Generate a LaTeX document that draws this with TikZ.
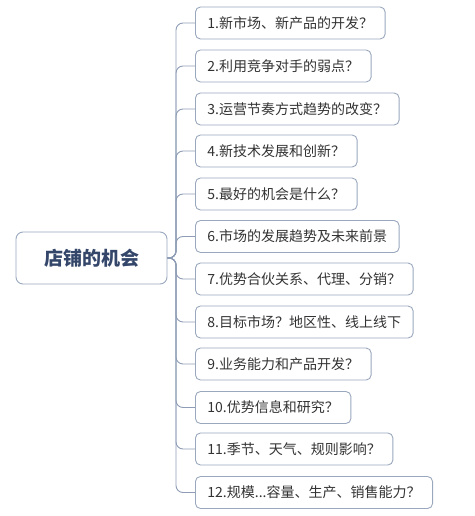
\documentclass[tikz,border=0pt]{standalone}
\usepackage{fontspec}
\setmainfont{Noto Sans CJK SC}
\definecolor{boxline}{HTML}{9AA8BD}
\definecolor{linkline}{HTML}{8E9DB5}
\definecolor{roottext}{HTML}{34476A}
\definecolor{itemtext}{HTML}{333333}

\begin{document}
\begin{tikzpicture}[x=1pt,y=1pt,
  rootbox/.style={draw=boxline,line width=0.9pt,rounded corners=7pt,minimum width=151pt,minimum height=52pt,font=\fontsize{19}{19}\selectfont\bfseries,text=roottext},
  itembox/.style={draw=boxline,line width=0.9pt,rounded corners=5pt,anchor=west,minimum height=32pt,inner xsep=12pt,font=\fontsize{14}{14}\selectfont,text=itemtext},
  link/.style={draw=linkline,line width=0.9pt,rounded corners=7pt}]
\useasboundingbox (0,0) rectangle (474,-516);

\draw (91.5,-258) node (r) [rootbox] {店铺的机会};
\coordinate (t) at (176,-258);

\draw (195,-23)    node (c1)  [itembox] {1.新市场、新产品的开发？};
\draw (195,-66)    node (c2)  [itembox] {2.利用竞争对手的弱点？};
\draw (195,-109)   node (c3)  [itembox] {3.运营节奏方式趋势的改变？};
\draw (195,-151)   node (c4)  [itembox] {4.新技术发展和创新？};
\draw (195,-194)   node (c5)  [itembox] {5.最好的机会是什么？};
\draw (195,-236.5) node (c6)  [itembox] {6.市场的发展趋势及未来前景};
\draw (195,-279)   node (c7)  [itembox] {7.优势合伙关系、代理、分销？};
\draw (195,-322)   node (c8)  [itembox] {8.目标市场？地区性、线上线下};
\draw (195,-364)   node (c9)  [itembox] {9.业务能力和产品开发？};
\draw (195,-407.5) node (c10) [itembox] {10.优势信息和研究？};
\draw (195,-449)   node (c11) [itembox] {11.季节、天气、规则影响？};
\draw (195,-492.5) node (c12) [itembox] {12.规模...容量、生产、销售能力？};

\draw[link] (r.east) -- (t) |- (c1.west);
\draw[link] (r.east) -- (t) |- (c2.west);
\draw[link] (r.east) -- (t) |- (c3.west);
\draw[link] (r.east) -- (t) |- (c4.west);
\draw[link] (r.east) -- (t) |- (c5.west);
\draw[link] (r.east) -- (t) |- (c6.west);
\draw[link] (r.east) -- (t) |- (c7.west);
\draw[link] (r.east) -- (t) |- (c8.west);
\draw[link] (r.east) -- (t) |- (c9.west);
\draw[link] (r.east) -- (t) |- (c10.west);
\draw[link] (r.east) -- (t) |- (c11.west);
\draw[link] (r.east) -- (t) |- (c12.west);
\end{tikzpicture}
\end{document}
